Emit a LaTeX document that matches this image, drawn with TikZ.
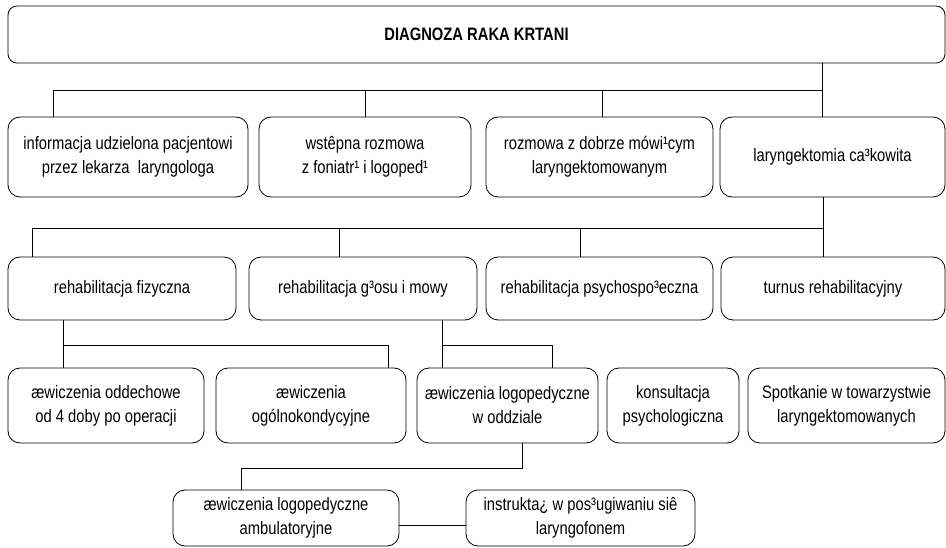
\documentclass[tikz,border=0pt]{standalone}
\usepackage{fontspec}
\setmainfont{Liberation Sans}[FakeStretch=0.82]
\usepackage{tikz}
\newcommand{\boxFont}[0]{\fontsize{18}{24}\selectfont}

\begin{document}
\begin{tikzpicture}[x=1pt, y=1pt]
  \tikzset{box/.style={draw, line width=0.8pt, rounded corners=12pt, align=center,
                       inner sep=0pt, font=\boxFont},
           conn/.style={line width=0.8pt}}
  \useasboundingbox (0,0) rectangle (946,-548);
  \node[box, rounded corners=9pt, minimum width=937pt, minimum height=57pt,
        font=\bfseries\boxFont] (diag) at (476.5,-34.5) {DIAGNOZA RAKA KRTANI};
  % first row
  \node[box, minimum width=240pt, minimum height=80pt] (info) at (128,-157)
       {informacja udzielona pacjentowi\\przez lekarza\ \ laryngologa};
  \node[box, minimum width=212pt, minimum height=80pt] (wstep) at (365,-157)
       {wstêpna rozmowa\\z foniatr¹ i logoped¹};
  \node[box, minimum width=227pt, minimum height=80pt] (dobrze) at (599.5,-157)
       {rozmowa z dobrze mówi¹cym\\laryngektomowanym};
  \node[box, minimum width=225pt, minimum height=80pt] (laryng) at (832.5,-157)
       {laryngektomia ca³kowita};
  % second row
  \node[box, minimum width=228pt, minimum height=63pt] (fiz) at (122,-288.5)
       {rehabilitacja fizyczna};
  \node[box, minimum width=228pt, minimum height=63pt] (glos) at (363,-288.5)
       {rehabilitacja g³osu i mowy};
  \node[box, minimum width=227pt, minimum height=63pt] (psych) at (599.5,-288.5)
       {rehabilitacja psychospo³eczna};
  \node[box, minimum width=224pt, minimum height=63pt] (turnus) at (833,-288.5)
       {turnus rehabilitacyjny};
  % third row
  \node[box, minimum width=196pt, minimum height=75pt] (oddech) at (106,-405.5)
       {æwiczenia oddechowe\\od 4 doby po operacji};
  \node[box, minimum width=190pt, minimum height=75pt] (ogol) at (311,-405.5)
       {æwiczenia\\ogólnokondycyjne};
  \node[box, minimum width=181pt, minimum height=75pt] (oddz) at (507.5,-405.5)
       {æwiczenia logopedyczne\\w oddziale};
  \node[box, minimum width=132pt, minimum height=75pt] (konsult) at (673,-405.5)
       {konsultacja\\psychologiczna};
  \node[box, minimum width=197pt, minimum height=75pt] (spotk) at (846.5,-405.5)
       {Spotkanie w towarzystwie\\laryngektomowanych};
  % fourth row
  \node[box, minimum width=226pt, minimum height=56pt] (ambul) at (286,-518)
       {æwiczenia logopedyczne\\ambulatoryjne};
  \node[box, minimum width=229pt, minimum height=56pt] (instr) at (580.5,-518)
       {instrukta¿ w pos³ugiwaniu siê\\laryngofonem};
  % connectors
  \coordinate (b1l) at (53,-90);
  \coordinate (b1r) at (822,-90);
  \coordinate (b1a) at (365,-90);
  \coordinate (b1b) at (602,-90);
  \draw[conn] (diag.south -| b1r) -- (b1r |- laryng.north);
  \draw[conn] (b1r) -- (b1l) -- (b1l |- info.north);
  \draw[conn] (b1a) -- (b1a |- wstep.north);
  \draw[conn] (b1b) -- (b1b |- dobrze.north);
  \coordinate (b2l) at (32,-228);
  \coordinate (b2r) at (823,-228);
  \coordinate (b2a) at (339,-228);
  \coordinate (b2b) at (580,-228);
  \draw[conn] (laryng.south -| b2r) -- (b2r |- turnus.north);
  \draw[conn] (b2r) -- (b2l) -- (b2l |- fiz.north);
  \draw[conn] (b2a) -- (b2a |- glos.north);
  \draw[conn] (b2b) -- (b2b |- psych.north);
  \coordinate (b3l) at (63,-345);
  \coordinate (b3r) at (388,-345);
  \draw[conn] (fiz.south -| b3l) -- (b3l |- oddech.north);
  \draw[conn] (b3l) -- (b3r) -- (b3r |- ogol.north);
  \coordinate (b4l) at (442,-345);
  \coordinate (b4r) at (552,-345);
  \draw[conn] (glos.south -| b4l) -- (b4l |- oddz.north);
  \draw[conn] (b4l) -- (b4r) -- (b4r |- oddz.north);
  \coordinate (b5r) at (522,-468);
  \coordinate (b5l) at (241,-468);
  \draw[conn] (oddz.south -| b5r) -- (b5r) -- (b5l) -- (b5l |- ambul.north);
  \draw[conn] ([yshift=-7pt]ambul.east) -- ([yshift=-7pt]instr.west);
\end{tikzpicture}
\end{document}
